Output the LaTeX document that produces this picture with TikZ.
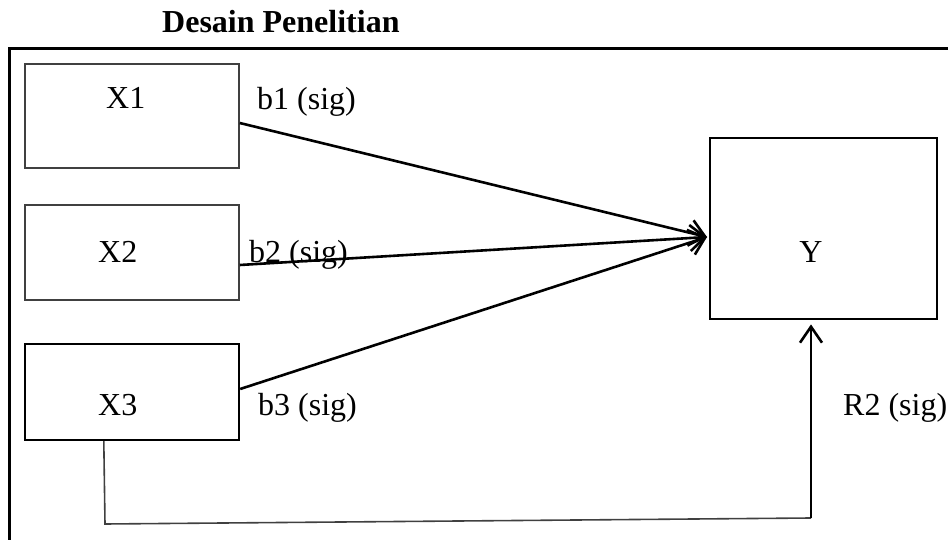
\documentclass[tikz,border=0pt]{standalone}
\usepackage{fontspec}
\setmainfont{Liberation Serif}
\usetikzlibrary{arrows.meta}
\begin{document}
\begin{tikzpicture}[x=1pt,y=-1pt,
  box/.style={draw, rectangle, inner sep=0pt},
  thinbox/.style={box, draw=black!75, line width=1.6pt},
  thickbox/.style={box, draw=black, line width=2.4pt},
  lbl/.style={inner sep=0pt, font=\fontsize{32}{38}\selectfont},
  link/.style={line width=2.6pt, -{Straight Barb[length=15pt,width=26pt,line width=2.6pt]}},
]
\useasboundingbox (0,0) rectangle (948,540);

% outer frame (runs past the right and bottom edges)
\draw[line width=3pt] (948,49) -- (9,49) -- (9,540);

% title
\node[lbl, font=\fontsize{32}{38}\selectfont\bfseries, anchor=base west] (title) at (162,33) {Desain Penelitian};

% boxes
\node[thinbox, minimum width=214pt, minimum height=104pt] (x1) at (132,116) {};
\node[thinbox, minimum width=214pt, minimum height=95pt] (x2) at (132,252.5) {};
\node[thickbox, minimum width=214pt, minimum height=96pt] (x3) at (132,392) {};
\node[thickbox, line width=2.8pt, minimum width=227pt, minimum height=181pt] (y) at (823.5,228.5) {};

% box texts
\node[lbl, anchor=base west] (x1t) at (106,109) {X1};
\node[lbl, anchor=base west] (x2t) at (98,262) {X2};
\node[lbl, anchor=base west] (x3t) at (98,415) {X3};
\node[lbl, anchor=base] (yt) at (811,262) {Y};

% path labels
\node[lbl, anchor=base west] (b1) at (257,110) {b1 (sig)};
\node[lbl, anchor=base west] (b2) at (249,262) {b2 (sig)};
\node[lbl, anchor=base west] (b3) at (258,415) {b3 (sig)};
\node[lbl, anchor=base west] (r2) at (843,415) {R2 (sig)};

% converging arrows into Y
\coordinate (t) at (707,237);
\draw[link] ([yshift=-7pt]x1.east) -- (t);
\draw[link] ([yshift=-12.5pt]x2.east) -- (t);
\draw[link] ([yshift=3pt]x3.east) -- (t);

% joint path from X3 to Y
\coordinate (c1) at (105,524);
\coordinate (c2) at (811,518);
\draw[line width=1.6pt, draw=black!75] ([xshift=80pt]x3.south west) -- (c1) -- (c2);
\draw[line width=2.6pt, -{Straight Barb[length=16pt,width=22pt,line width=2.6pt]}] (c2) -- ([xshift=-12.5pt,yshift=-4pt]y.south);
\end{tikzpicture}
\end{document}
